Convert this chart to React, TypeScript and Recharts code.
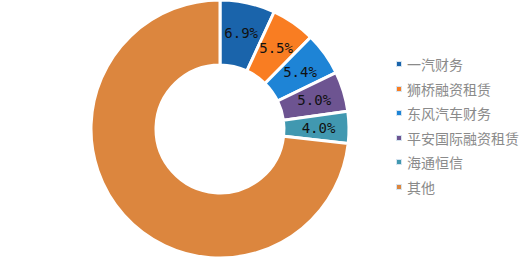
import { PieChart, Pie, Cell, Legend } from 'recharts';

const companies = ['一汽财务', '狮桥融资租赁', '东风汽车财务', '平安国际融资租赁', '海通恒信', '其他'];
const shares = [6.9, 5.5, 5.4, 5.0, 4.0, 73.2];
const colors = ['#1a64ab', '#f97d22', '#1e84d6', '#6d5491', '#4198b0', '#dc863e'];

const data = companies.map((name, i) => ({ name, value: shares[i] }));

const RADIAN = Math.PI / 180;

const renderLabel = (props: any) => {
  const { cx, cy, midAngle, innerRadius, outerRadius, index, value } = props;
  if (index === companies.length - 1) return null;
  const r = (innerRadius + outerRadius) / 2 + 2;
  const x = cx + r * Math.cos(-midAngle * RADIAN);
  const y = cy + r * Math.sin(-midAngle * RADIAN);
  return (
    <text
      x={x}
      y={y}
      fill="#111"
      fontSize={14}
      fontFamily="'DejaVu Sans Mono', monospace"
      textAnchor="middle"
      dominantBaseline="central"
    >
      {value.toFixed(1)}%
    </text>
  );
};

const LegendList = () => (
  <div>
    {companies.map((name, i) => (
      <div
        key={name}
        style={{ display: 'flex', alignItems: 'center', height: 24.5, fontSize: 14, color: '#8a8a8a' }}
      >
        <span
          style={{
            display: 'inline-block',
            width: 4,
            height: 4,
            background: colors[i],
            marginRight: 6,
            boxShadow: '0 0 0 1px #d6e4f0',
          }}
        />
        {name}
      </div>
    ))}
  </div>
);

export default function App() {
  return (
    <div style={{ position: 'absolute', left: 0, top: 0, width: 531, height: 265, background: '#fff', fontFamily: "'Noto Sans CJK SC', sans-serif" }}>
      <PieChart width={531} height={265} margin={{ top: 0, right: 0, bottom: 0, left: 0 }}>
        <Pie
          data={data}
          dataKey="value"
          nameKey="name"
          cx={220}
          cy={129}
          innerRadius={64}
          outerRadius={129}
          startAngle={90}
          endAngle={-270}
          stroke="#fff"
          strokeWidth={3}
          label={renderLabel}
          labelLine={false}
          isAnimationActive={false}
        >
          {data.map((d, i) => (
            <Cell key={d.name} fill={colors[i]} />
          ))}
        </Pie>
        <Legend
          layout="vertical"
          content={<LegendList />}
          wrapperStyle={{ position: 'absolute', left: 397, top: 52, width: 134 }}
        />
      </PieChart>
    </div>
  );
}
